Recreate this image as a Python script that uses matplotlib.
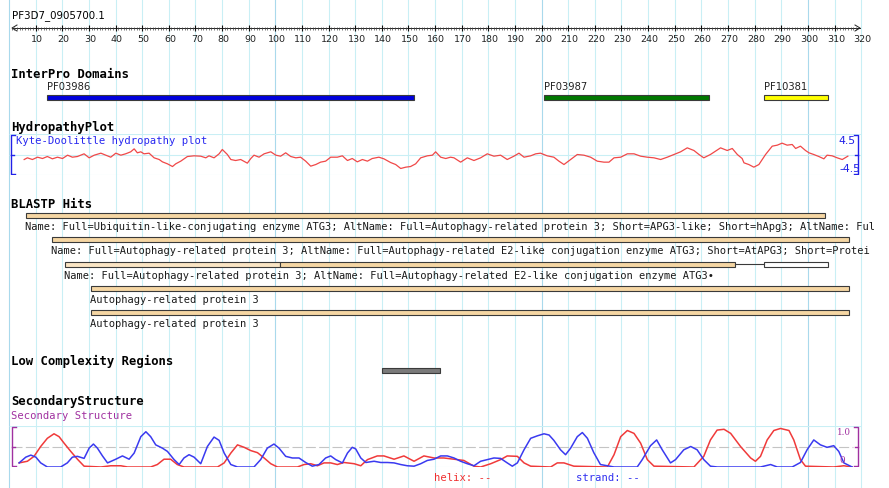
import matplotlib
matplotlib.use("Agg")
import matplotlib.pyplot as plt

# ruler
seq_name = "PF3D7_0905700.1"
ruler_ticks = list(range(10, 330, 10))
grid_pos = list(range(0, 330, 10))

# interpro domains
dom_names = ["PF03986", "PF03987", "PF10381"]
dom_start = [14.2, 200.8, 283.5]
dom_end = [152.1, 262.7, 307.7]
dom_colors = ["#0000dd", "#007800", "#ffff00"]

# kyte-doolittle hydropathy
hyd_pos = [5.7, 6.9, 8.8, 10.7, 12.6, 14.4, 16.3, 18.2, 20.1, 22.0,
           23.8, 25.7, 28.2, 30.1, 32.0, 34.5, 36.3, 38.2, 40.1, 42.0,
           43.8, 45.7, 47.0, 48.2, 49.5, 50.7, 52.6, 54.5, 56.4, 57.6,
           59.5, 61.4, 62.6, 64.5, 67.0, 69.5, 72.0, 73.9, 75.1, 77.0,
           78.9, 80.1, 82.0, 83.3, 85.1, 87.0, 89.5, 90.8, 92.0, 93.9,
           95.8, 98.3, 100.2, 102.0, 103.9, 105.8, 107.7, 109.5, 111.4, 113.3,
           115.2, 117.0, 118.9, 120.8, 123.3, 125.2, 127.1, 128.9, 130.8, 132.7,
           134.6, 136.4, 138.9, 140.8, 143.3, 145.2, 147.1, 149.0, 150.8, 152.7,
           154.6, 157.1, 159.0, 160.2, 162.1, 164.0, 165.8,
           167.1, 169.6, 172.1, 174.6, 177.1, 179.6, 182.1, 184.6, 187.1, 189.6,
           191.5, 193.4, 195.9, 197.8, 199.6, 202.1, 204.6, 206.5, 208.4, 210.9,
           213.4, 215.9, 218.4, 220.9, 223.4, 225.3, 227.2, 229.7, 232.2, 234.7,
           237.2, 239.7, 242.2, 244.7, 247.2, 249.7, 252.2, 254.7, 257.2, 259.1,
           260.9, 263.4, 265.3, 267.2, 269.7, 271.6, 273.5, 275.3, 276.0, 277.8,
           279.7, 281.6, 284.1, 286.6, 288.5, 290.3, 292.2, 294.1, 295.4, 297.2,
           299.1, 300.4, 302.2, 304.1, 306.0, 307.2, 309.1, 311.0, 312.9, 315.0]
hyd_val = [-1.10, -0.73, -1.10, -0.59, -0.88, -0.44, -0.95, -0.59, -0.88, -0.15,
           -0.59, -0.44, 0.15, -0.73, -0.15, 0.29, -0.15, -0.59, 0.29, -0.15,
           0.15, 0.59, 1.24, 0.37, 0.59, 0.15, 0.29, -0.73, -1.10, -1.61,
           -2.05, -2.64, -2.05, -1.46, -0.44, -0.29, -0.37, -0.73, -0.29, -0.73,
           0.15, 1.10, 0.0, -1.10, -1.32, -1.10, -1.90, -0.88, -0.15, -0.59,
           0.15, 0.59, -0.15, -0.37, 0.37, -0.44, -0.73, -0.59, -1.46, -2.56,
           -2.20, -1.68, -1.46, -0.59, -0.59, -0.29, -1.32, -0.88, -1.61, -1.10,
           -1.46, -0.88, -0.59, -0.95, -1.76, -2.20, -3.07, -2.78, -2.64, -2.05,
           -0.73, -0.29, -0.15, 0.59, -0.59, -0.88, -0.59,
           -0.73, -1.68, -0.73, -1.32, -0.73, 0.15, -0.37, -0.15, -1.10, -0.37,
           0.29, -0.59, -0.29, 0.15, 0.29, -0.29, -0.59, -1.46, -2.20, -1.10,
           0.0, -0.15, -0.59, -1.46, -1.68, -1.68, -0.73, -0.59, 0.15, 0.15,
           -0.37, -0.59, -0.73, -1.10, -0.59, 0.0, 0.59, 1.46, 0.88, 0.0,
           -0.73, 0.0, 0.73, 1.46, 0.88, 1.32, 0.0, -0.88, -1.83, -2.20,
           -2.78, -2.20, 0.0, 1.83, 2.05, 2.49, 2.05, 2.20, 1.32, 1.83,
           0.88, 0.37, 0.0, -0.44, -0.95, -0.15, -0.29, -0.73, -1.10, -0.37]

# blastp hits (names cut where the picture cuts them)
hit_names = [
    "Name: Full=Ubiquitin-like-conjugating enzyme ATG3; AltName: Full=Autophagy-related protein 3; Short=APG3-like; Short=hApg3; AltName: Ful",
    "Name: Full=Autophagy-related protein 3; AltName: Full=Autophagy-related E2-like conjugation enzyme ATG3; Short=AtAPG3; Short=Protei",
    "Name: Full=Autophagy-related protein 3; AltName: Full=Autophagy-related E2-like conjugation enzyme ATG3\u2022",
    "Autophagy-related protein 3",
    "Autophagy-related protein 3",
]
hit_start = [6.4, 16.3, 21.0, 30.7, 30.7]
hit_end = [306.4, 315.5, 272.6, 315.5, 315.5]
hit3_split = 101.8          # weaker first part of hit 3
hit3_extra = [283.5, 307.7]  # second, unfilled block of hit 3

# low complexity
lowc_start = [140.0]
lowc_end = [161.8]

# secondary structure
helix_pos = [3.8, 6.9, 9.4, 11.9, 14.4, 16.9, 18.8, 20.7, 23.2, 25.7, 28.2, 34.5,
             38.2, 42.0, 44.5, 53.2, 55.7, 58.2, 60.7, 63.2, 65.7, 78.3, 80.8,
             83.3, 85.8, 88.3, 90.8, 93.3, 95.8, 98.3, 100.8, 108.3, 110.8, 113.3,
             115.8, 118.3, 120.8, 123.3, 125.8, 129.6, 132.1, 134.6, 138.3, 140.8,
             144.6, 148.3, 152.1, 155.8, 159.6, 163.3,
             167.1, 170.8, 174.6, 177.1, 180.9, 184.6, 187.1, 190.9, 193.4, 195.9,
             203.4, 205.9, 208.4, 212.1, 224.7, 227.2, 229.7, 232.2, 234.7, 237.2,
             239.7, 242.2, 257.2, 260.9, 263.4, 265.9, 268.5, 271.0, 274.7, 278.5,
             280.3, 282.2, 284.7, 287.2, 289.7, 292.9, 294.7, 297.2, 299.1, 309.7,
             313.5, 316.6]
helix_val = [0.10, 0.14, 0.26, 0.50, 0.70, 0.81, 0.74, 0.58, 0.38, 0.19, 0.02, 0.0,
             0.03, 0.03, 0.0, 0.0, 0.06, 0.19, 0.19, 0.06, 0.0, 0.0, 0.10,
             0.34, 0.54, 0.48, 0.40, 0.35, 0.22, 0.08, 0.0, 0.0, 0.06, 0.08,
             0.03, 0.10, 0.10, 0.06, 0.11, 0.08, 0.03, 0.18, 0.27, 0.27,
             0.19, 0.27, 0.14, 0.27, 0.22, 0.22,
             0.19, 0.16, 0.02, 0.0, 0.08, 0.18, 0.27, 0.26, 0.10, 0.02,
             0.0, 0.10, 0.10, 0.02, 0.0, 0.30, 0.74, 0.89, 0.82, 0.58,
             0.18, 0.02, 0.0, 0.26, 0.66, 0.90, 0.92, 0.82, 0.50, 0.22,
             0.14, 0.26, 0.66, 0.89, 0.94, 0.89, 0.66, 0.18, 0.02, 0.0,
             0.03, 0.0]
strand_pos = [3.8, 6.3, 8.2, 10.1, 11.9, 14.4, 19.4, 21.9, 23.8, 25.7, 28.2, 30.1,
              31.7, 33.2, 35.1, 37.0, 40.1, 42.6, 45.1, 47.0, 49.5, 51.4, 53.2,
              55.1, 57.6, 59.5, 62.0, 63.9, 65.7, 67.6, 69.5, 72.0, 74.5, 77.0,
              78.9, 80.8, 83.3, 85.8, 92.0, 94.5, 97.0, 99.5, 101.4, 103.9, 106.4,
              108.9, 111.4, 113.9, 116.4, 118.9, 120.8, 122.7, 125.2, 127.1, 128.9,
              130.2, 132.1, 134.0, 137.1, 139.6, 142.1, 144.6, 147.1, 149.6, 152.1,
              154.6, 157.1, 159.6, 162.1, 164.6,
              167.1, 169.6, 172.1, 174.6, 177.1, 179.6, 182.1, 184.6, 187.1, 189.0,
              190.9, 193.4, 195.9, 198.4, 200.9, 202.8, 204.6, 207.1, 209.0, 210.9,
              213.4, 215.3, 217.2, 219.6, 222.1, 224.7, 227.2, 235.9, 237.8, 240.9,
              243.2, 245.3, 248.4, 250.3, 253.4, 256.0, 258.4, 260.9, 263.4, 266.0,
              282.2, 286.0, 288.5, 294.1, 297.2, 299.7, 302.2, 304.7, 307.2, 309.7,
              311.6, 313.5, 316.6]
strand_val = [0.10, 0.24, 0.29, 0.24, 0.10, 0.0, 0.0, 0.10, 0.24, 0.26, 0.21, 0.46,
              0.56, 0.46, 0.27, 0.10, 0.19, 0.27, 0.19, 0.34, 0.74, 0.86, 0.74,
              0.54, 0.46, 0.38, 0.18, 0.06, 0.22, 0.30, 0.24, 0.08, 0.50, 0.73,
              0.65, 0.34, 0.06, 0.0, 0.0, 0.18, 0.46, 0.56, 0.46, 0.26, 0.22,
              0.22, 0.11, 0.02, 0.06, 0.22, 0.27, 0.18, 0.10, 0.34, 0.48,
              0.44, 0.22, 0.11, 0.14, 0.11, 0.11, 0.10, 0.06, 0.03, 0.02,
              0.08, 0.16, 0.19, 0.27, 0.27,
              0.22, 0.14, 0.08, 0.03, 0.14, 0.18, 0.22, 0.21, 0.10, 0.02,
              0.10, 0.42, 0.70, 0.76, 0.81, 0.78, 0.65, 0.42, 0.30, 0.46,
              0.74, 0.84, 0.70, 0.35, 0.06, 0.03, 0.0, 0.0, 0.18, 0.52,
              0.66, 0.42, 0.10, 0.18, 0.42, 0.50, 0.42, 0.18, 0.02, 0.0,
              0.0, 0.06, 0.0, 0.0, 0.11, 0.42, 0.66, 0.54, 0.48, 0.52,
              0.38, 0.10, 0.0]

W, H = 889, 488
X0, PPR = 9.0, 2.663  # pixel of residue 0, pixels per residue


def px(x):
    return (x - X0) / PPR


grid_c = "#c9eff5"
grid_dark = "#a9d9ec"
mono = "DejaVu Sans Mono"
bar_edge = "#3a3a3a"

fig = plt.figure(figsize=(W / 100, H / 100), dpi=100)
ax = fig.add_axes([0, 0, 1, 1])
ax.set_xlim(px(0), px(W))
ax.set_ylim(H, 0)
ax.axis("off")

for g in grid_pos:
    ax.axvline(g, color=grid_dark if g % 100 == 0 else grid_c, lw=0.8, zorder=0)

# ruler
ax.text(px(12), 16, seq_name, fontsize=7.4, va="center", ha="left")
ax.plot([px(12), px(860)], [28, 28], color="#222222", lw=0.7)
ax.plot([px(17), px(12), px(17)], [25, 28, 31], color="#222222", lw=0.7)
ax.plot([px(855), px(860), px(855)], [25, 28, 31], color="#222222", lw=0.7)
ax.vlines(range(1, 319), 26.5, 29.5, color="#444444", lw=0.5)
ax.vlines(ruler_ticks[:-1], 25, 31, color="#111111", lw=0.8)
for t in ruler_ticks:
    ax.text(t + 0.5, 39, str(t), fontsize=6.8, ha="center", va="center", color="#222222")

# interpro domains
ax.text(px(11), 74, "InterPro Domains", family=mono, weight="bold", fontsize=8.8, va="center")
for name, s, e, c in zip(dom_names, dom_start, dom_end, dom_colors):
    ax.barh(97.5, e - s, left=s, height=5, color=c, edgecolor=bar_edge, lw=0.8)
    ax.text(s, 87, name, fontsize=7.2, va="center", ha="left", color="#222222")

# hydropathy
ax.text(px(11), 128, "HydropathyPlot", family=mono, weight="bold", fontsize=8.8, va="center")
ax.text(px(16), 141, "Kyte-Doolittle hydropathy plot", family=mono, fontsize=7.6,
        va="center", color="#2828f0")
hax = fig.add_axes([0, 1 - 175 / H, 1, 41 / H])
hax.set_xlim(px(0), px(W))
hax.set_ylim(-4.5, 4.5)
hax.axis("off")
hax.hlines([-4.5, 0, 4.5], 0, 320, color=grid_c, lw=0.8, zorder=0)
hax.plot(hyd_pos, hyd_val, color="#f04848", lw=0.9)
blue = "#2020e8"
for xb, d in [(px(11), 1), (px(858), -1)]:
    hax.plot([xb + d * 1.5, xb, xb, xb + d * 1.5], [4.3, 4.3, -4.3, -4.3], color=blue, lw=1.0)
    hax.plot([xb, xb + d * 1.2], [0, 0], color=blue, lw=1.0)
hax.text(px(856), 3.0, "4.5", color=blue, fontsize=7.8, ha="right", va="center")
hax.text(px(850), -3.1, "-4.5", color=blue, fontsize=7.8, ha="center", va="center")

# blastp hits
ax.text(px(11), 205, "BLASTP Hits", family=mono, weight="bold", fontsize=8.8, va="center")
hit_y = [215.5, 239, 264.3, 288.3, 312.3]
bar_c = "#f5d6a3"
for i, (name, s, e) in enumerate(zip(hit_names, hit_start, hit_end)):
    y = hit_y[i]
    if i == 2:
        ax.barh(y, hit3_split - s, left=s, height=5, color="#fae5c4", edgecolor=bar_edge, lw=0.8)
        ax.barh(y, e - hit3_split, left=hit3_split, height=5, color=bar_c, edgecolor=bar_edge, lw=0.8)
        ax.plot([e, hit3_extra[0]], [y, y], color=bar_edge, lw=0.8)
        ax.barh(y, hit3_extra[1] - hit3_extra[0], left=hit3_extra[0], height=5,
                color="white", edgecolor=bar_edge, lw=0.8)
    else:
        ax.barh(y, e - s, left=s, height=5, color=bar_c, edgecolor=bar_edge, lw=0.8)
    ax.text(s - 0.4, y + 12, name, family=mono, fontsize=7.5, va="center", ha="left",
            color="#1a1a1a")

# low complexity regions
ax.text(px(11), 361, "Low Complexity Regions", family=mono, weight="bold", fontsize=8.8, va="center")
for s, e in zip(lowc_start, lowc_end):
    ax.barh(370.5, e - s, left=s, height=4.5, color="#7a7a7a", edgecolor=bar_edge, lw=0.8)

# secondary structure
purple = "#a030a0"
ax.text(px(11), 402, "SecondaryStructure", family=mono, weight="bold", fontsize=8.8, va="center")
ax.text(px(11), 416, "Secondary Structure", family=mono, fontsize=7.6, va="center", color=purple)
sax = fig.add_axes([0, 1 - 467 / H, 1, 41 / H])
sax.set_xlim(px(0), px(W))
sax.set_ylim(0, 1)
sax.axis("off")
sax.hlines([0, 1], 0, 320, color=grid_c, lw=0.8, zorder=0)
sax.plot([1, 317], [0.5, 0.5], color="#c4c4c4", lw=0.8, ls=(0, (9, 3)), zorder=1)
sax.plot(helix_pos, helix_val, color="#f03a3a", lw=1.1)
sax.plot(strand_pos, strand_val, color="#3a3af0", lw=1.1)
for xb, d in [(px(12), 1), (px(858), -1)]:
    sax.plot([xb + d * 1.5, xb, xb, xb + d * 1.5], [0.98, 0.98, 0.02, 0.02], color=purple, lw=1.0)
    sax.plot([xb, xb + d * 1.2], [0.5, 0.5], color=purple, lw=1.0)
sax.text(px(844), 0.83, "1.0", color=purple, fontsize=6.3, family="DejaVu Serif", ha="center", va="center")
sax.text(px(842), 0.15, "0", color=purple, fontsize=6.3, family="DejaVu Serif", ha="center", va="center")
ax.text(px(434), 478, "helix: --", family=mono, fontsize=7.6, color="#f03030", va="center")
ax.text(px(576), 478, "strand: --", family=mono, fontsize=7.6, color="#3030f0", va="center")

fig.savefig("out.png", dpi=100)
